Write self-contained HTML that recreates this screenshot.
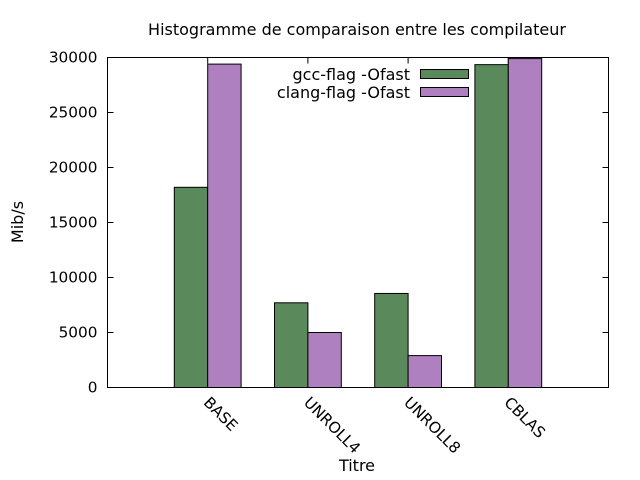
<!DOCTYPE html>
<html><head><meta charset="utf-8"><style>
body{margin:0;background:#fff}
svg{display:block;font-family:"DejaVu Sans","Liberation Sans",sans-serif}
</style></head><body>
<svg id="chart" width="640" height="480" viewBox="0 0 640 480">
<rect width="640" height="480" fill="#fff"/>
<text x="357" y="35" font-size="16" text-anchor="middle">Histogramme de comparaison entre les compilateur</text>
<text transform="translate(23,222) rotate(-90)" font-size="16" text-anchor="middle">Mib/s</text>
<text x="357" y="471" font-size="16" text-anchor="middle">Titre</text>
<g id="grid"></g>
<g id="bars"></g>
<rect x="107.5" y="57.5" width="501" height="330" fill="none" stroke="#000"/>
<g font-size="16">
<text x="410" y="80" text-anchor="end">gcc-flag -Ofast</text>
<rect x="420.5" y="69.5" width="48" height="9" fill="#5a8a5c" stroke="#000"/>
<text x="410" y="98" text-anchor="end">clang-flag -Ofast</text>
<rect x="420.5" y="87.5" width="48" height="9" fill="#ae80bf" stroke="#000"/>
</g>
</svg>
<script>
const categories = ["BASE","UNROLL4","UNROLL8","CBLAS"];
const gccValues = [18200, 7700, 8550, 29350];
const clangValues = [29400, 5000, 2900, 29900];
const yTicks = [0,5000,10000,15000,20000,25000,30000];
const NS="http://www.w3.org/2000/svg";
const L=107.5,R=608.5,T=57.5,B=387.5;
function xs(v){return L+(v+1)/5*(R-L);}
function ys(v){return B-v/30000*(B-T);}
function mk(tag,attrs,parent){const e=document.createElementNS(NS,tag);for(const k in attrs)e.setAttribute(k,attrs[k]);parent.appendChild(e);return e;}
const grid=document.getElementById('grid'), bars=document.getElementById('bars');
yTicks.forEach(t=>{
  const y=ys(t);
  const a=mk('line',{x1:L,x2:L+6,y1:y,y2:y,stroke:'#000'},grid);
  
  
  const b=mk('line',{x1:R-6,x2:R,y1:y,y2:y,stroke:'#000'},grid);
  
  
  const tx=mk('text',{x:L-10,y:y+5,'font-size':15.3,'text-anchor':'end'},grid);
  tx.textContent=t;
  
  
});
const bw=1/3;
categories.forEach((c,i)=>{
  const x=xs(i);
  const tk=mk('line',{x1:x,x2:x,y1:B,y2:B-6,stroke:'#000'},grid);
  
  
  const tk2=mk('line',{x1:x,x2:x,y1:T,y2:T+6,stroke:'#000'},grid);
  
  
  const lb=mk('text',{transform:`translate(${x+3},${B+8}) rotate(45)`,'font-size':15.3,'dominant-baseline':'hanging'},grid);
  lb.textContent=c;
  
  
  const g=mk('rect',{x:xs(i-bw),y:ys(gccValues[i]),width:xs(i)-xs(i-bw),height:B-ys(gccValues[i]),fill:'#5a8a5c',stroke:'#000'},bars);
  
  
  const k=mk('rect',{x:xs(i),y:ys(clangValues[i]),width:xs(i+bw)-xs(i),height:B-ys(clangValues[i]),fill:'#ae80bf',stroke:'#000'},bars);
  
  
});
</script>
</body></html>
